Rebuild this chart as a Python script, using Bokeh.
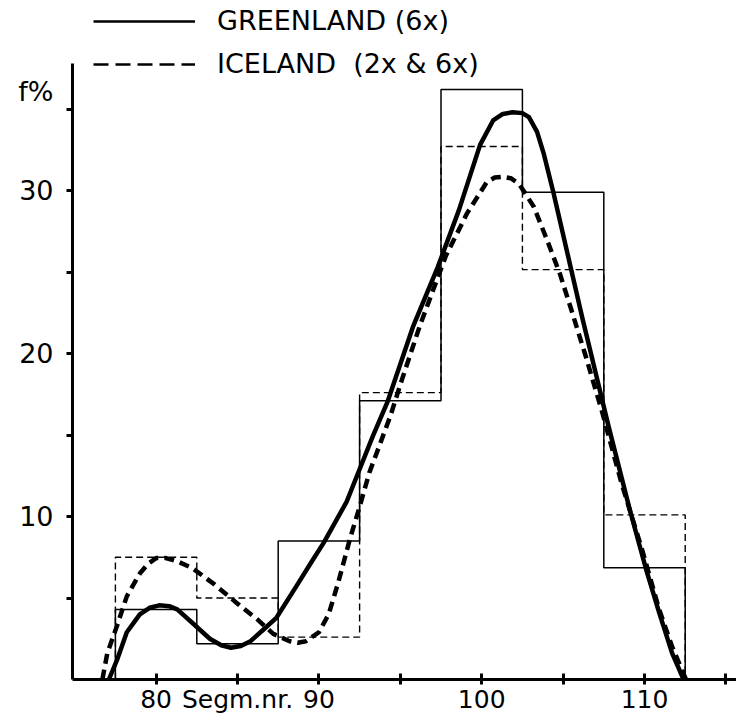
from bokeh.plotting import figure
from bokeh.models import Range1d, FixedTicker, Legend, LegendItem
from bokeh.embed import file_html
from bokeh.resources import INLINE

# ---- data ----
bin_edges = [77.5, 82.5, 87.5, 92.5, 97.5, 102.5, 107.5, 112.5]
greenland_hist = [4.3, 2.2, 8.5, 17.1, 36.2, 29.9, 6.85]
iceland_hist = [7.5, 5.0, 2.6, 17.6, 32.7, 25.15, 10.1]

greenland_curve_x = [77.1, 77.6, 78.2, 79.0, 79.6, 80.2, 80.8, 81.3, 82.2, 83.3, 84.0, 84.6,
                     85.2, 85.8, 86.6, 87.4, 88.6, 89.6, 90.3, 91.7, 92.5, 93.3, 94.2,
                     95.8, 97.3, 98.6, 99.9, 100.7, 101.3, 101.9, 102.5, 102.9, 103.4,
                     103.8, 104.4, 105.3, 106.2, 107.0, 107.8, 109.1, 110.1, 110.9,
                     111.7, 112.4]
greenland_curve_y = [0.0, 1.2, 2.9, 4.0, 4.4, 4.55, 4.5, 4.3, 3.5, 2.5, 2.1, 1.95,
                     2.05, 2.35, 3.07, 3.8, 5.7, 7.3, 8.4, 10.9, 12.9, 14.9, 17.0,
                     21.7, 25.3, 28.8, 32.8, 34.3, 34.7, 34.8, 34.75, 34.5, 33.6,
                     32.3, 29.9, 26.0, 22.1, 18.8, 15.5, 10.4, 6.75, 4.1,
                     1.6, 0.0]

iceland_curve_x = [76.7, 77.0, 77.6, 78.2, 79.0, 79.5, 80.0, 80.6, 81.3, 82.2, 83.5, 84.95,
                   86.2, 87.2, 88.2, 88.7, 89.2, 90.0, 90.6, 91.2, 91.9, 92.5, 93.1,
                   93.7, 94.4, 95.1, 96.2, 97.8, 99.1, 100.3, 100.8, 101.3, 101.8, 102.3,
                   103.2, 104.0, 104.8, 105.5, 106.4, 107.4, 108.6, 109.9, 110.9,
                   111.7, 112.55]
iceland_curve_y = [0.0, 1.6, 3.3, 5.1, 6.5, 7.1, 7.45, 7.45, 7.25, 6.85, 5.9, 4.7,
                   3.7, 2.8, 2.35, 2.25, 2.35, 2.9, 4.0, 6.0, 8.6, 10.6, 12.7,
                   14.3, 16.2, 18.4, 21.7, 26.0, 28.6, 30.5, 30.8, 30.85, 30.75, 30.4,
                   29.0, 27.0, 24.9, 22.7, 19.8, 16.4, 12.0, 7.8, 4.3,
                   2.0, 0.0]

x_ticks = [80, 85, 90, 95, 100, 105, 110, 115]
x_tick_labels = ["80", "Segm.nr.", "90", "", "100", "", "110", ""]
y_tick_marks = [5, 10, 15, 20, 25, 30, 35]
y_label_positions = [10, 20, 30, 36.1]
y_label_texts = ["10", "20", "30", "f%"]

y_axis_top = 37.8
series_names = ["GREENLAND (6x)", "ICELAND  (2x & 6x)"]

FONT = "DejaVu Sans"
NAN = float("nan")


def step_outline(edges, vals):
    xs = [edges[0]]
    ys = [0.0]
    for i, v in enumerate(vals):
        xs += [edges[i], edges[i + 1]]
        ys += [v, v]
    xs.append(edges[-1])
    ys.append(0.0)
    return xs, ys


p = figure(width=736, height=716, output_backend="svg", toolbar_location=None,
           x_range=Range1d(74.865, 115.65), y_range=Range1d(0, 41.66),
           min_border_left=72, min_border_right=0, min_border_top=0,
           min_border_bottom=37)
p.grid.visible = False
p.outline_line_color = None
p.background_fill_color = "white"
p.border_fill_color = "white"

# histograms
gx, gy = step_outline(bin_edges, greenland_hist)
ix, iy = step_outline(bin_edges, iceland_hist)
p.line(gx, gy, line_color="black", line_width=1.5)
p.line(ix, iy, line_color="black", line_width=1.4, line_dash="7 4")

# smooth curves
p.line(greenland_curve_x, greenland_curve_y, line_color="black", line_width=4.5,
       line_join="round", line_cap="round")
p.line(iceland_curve_x, iceland_curve_y, line_color="black", line_width=4.5,
       line_dash="10 6", line_join="round")

# legend keys: renderers that draw nothing in the plot, only their key style
leg_g = p.line(x=[NAN], y=[NAN], line_color="black", line_width=2.7)
leg_i = p.line(x=[NAN], y=[NAN], line_color="black", line_width=2.7, line_dash="15 7")
legend = Legend(items=[LegendItem(label=series_names[0], renderers=[leg_g]),
                       LegendItem(label=series_names[1], renderers=[leg_i])],
                location=(21, 600), glyph_width=102, glyph_height=20,
                label_height=20, spacing=12, padding=0, margin=0,
                label_standoff=22, label_text_font_size="27px",
                label_text_font=FONT, label_text_color="black",
                border_line_color=None, background_fill_alpha=0)
p.add_layout(legend)

# x axis
xa = p.xaxis[0]
xa.ticker = FixedTicker(ticks=x_ticks)
xa.major_label_overrides = {t: l for t, l in zip(x_ticks, x_tick_labels)}
xa.minor_tick_line_color = None
xa.axis_line_width = 3
xa.major_tick_line_width = 3
xa.major_tick_in = 6
xa.major_tick_out = 5
xa.major_label_standoff = 0
xa.major_label_text_font = FONT
xa.major_label_text_font_size = "25px"
xa.major_label_text_color = "black"
xa.axis_line_color = "black"
xa.major_tick_line_color = "black"

# y axis: tick marks drawn as minor ticks, labels (incl. unit) as major labels
ya = p.yaxis[0]
ya.ticker = FixedTicker(ticks=y_label_positions, minor_ticks=y_tick_marks)
ya.major_label_overrides = {t: l for t, l in zip(y_label_positions, y_label_texts)}
ya.bounds = (0, y_axis_top)
ya.major_tick_line_color = None
ya.major_tick_in = 1
ya.major_tick_out = 6
ya.minor_tick_line_color = "black"
ya.minor_tick_line_width = 3
ya.minor_tick_in = 1
ya.minor_tick_out = 6
ya.axis_line_width = 3
ya.axis_line_color = "black"
ya.major_label_standoff = 13
ya.major_label_text_font = FONT
ya.major_label_text_font_size = "27px"
ya.major_label_text_color = "black"

open("out.html", "w").write(file_html(p, INLINE))
